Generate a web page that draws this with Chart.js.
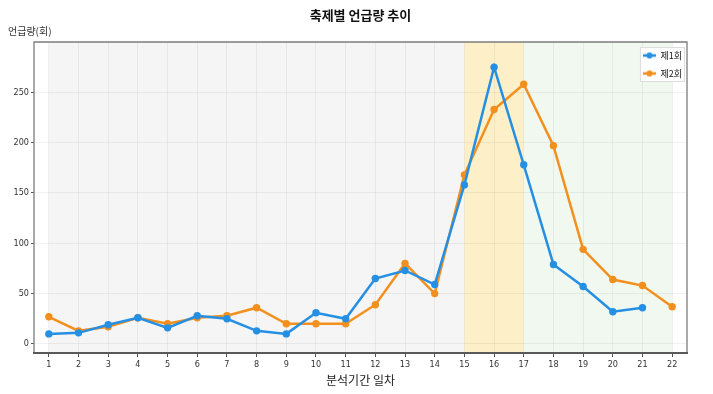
<!DOCTYPE html>
<html>
<head>
<meta charset="utf-8">
<script src="https://cdn.jsdelivr.net/npm/chart.js@4.4.1/dist/chart.umd.min.js"></script>
<style>
html, body { margin: 0; padding: 0; background: #fff; }
#wrap { position: relative; width: 713px; height: 394px; }
#title { position: absolute; left: 0; width: 721px; top: 7px; text-align: center;
         font: bold 13px 'Noto Sans CJK KR', sans-serif; line-height: 16px; color: #111; }
#ylabel { position: absolute; left: 8px; top: 24px;
          font: 10px 'Noto Sans CJK KR', sans-serif; line-height: 14px; color: #333; }
canvas { position: absolute; left: 0; top: 0; }
</style>
</head>
<body>
<div id="wrap">
  <canvas id="chart_mentions" width="713" height="394"></canvas>
  <div id="title">축제별 언급량 추이</div>
  <div id="ylabel">언급량(회)</div>
</div>
<script>
// day index on the x axis
const days = [1, 2, 3, 4, 5, 6, 7, 8, 9, 10, 11, 12, 13, 14, 15, 16, 17, 18, 19, 20, 21, 22];
// mentions per day, 1st festival (ends on day 21) and 2nd festival
const round1 = [10, 11, 19, 26, 16, 28, 25, 13, 10, 31, 25, 65, 73, 59, 158, 275, 178, 79, 57, 32, 36];
const round2 = [27, 13, 17, 26, 20, 26, 28, 36, 20, 20, 20, 39, 80, 50, 168, 233, 258, 197, 94, 64, 58, 37];
const seriesNames = ['제1회', '제2회'];
const yTicks = [0, 50, 100, 150, 200, 250];
// shaded periods: before / during / after the festival
const periodStart = [1, 15, 17];
const periodEnd = [15, 17, 22];

const BLUE = '#2590e3';
const ORANGE = '#f3901d';
const periodColors = ['#f5f5f5', '#fdf0c9', '#f1f8f0'];
const tickFont = "'Liberation Sans Narrow', 'DejaVu Sans Condensed', 'Noto Sans CJK KR', sans-serif";
const krFont = "'Noto Sans CJK KR', sans-serif";

const toPoints = (values) => values.map((v, i) => ({ x: days[i], y: v }));

// small line + dot sample for the legend
const legendMark = (color) => {
    const c = document.createElement('canvas');
    c.width = 13; c.height = 8;
    const g = c.getContext('2d');
    g.strokeStyle = color; g.lineWidth = 2.5;
    g.beginPath(); g.moveTo(0, 4); g.lineTo(13, 4); g.stroke();
    g.fillStyle = color;
    g.beginPath(); g.arc(6.5, 4, 3, 0, Math.PI * 2); g.fill();
    return c;
};
const marks = [legendMark(BLUE), legendMark(ORANGE)];

let legendFrame = null;

const periods = {
    id: 'periods',
    beforeDraw(chart) {
        const { ctx, chartArea: a, scales: { x } } = chart;
        ctx.save();
        periodStart.forEach((s, i) => {
            const x0 = x.getPixelForValue(s);
            const x1 = x.getPixelForValue(periodEnd[i]);
            ctx.fillStyle = periodColors[i];
            ctx.fillRect(x0, a.top, x1 - x0, a.bottom - a.top);
        });
        ctx.restore();
    },
    afterLayout(chart) {
        // move the legend into the upper right corner of the plot, frame drawn round its items
        const lg = chart.legend, a = chart.chartArea;
        const pad = lg.options.labels.padding;
        const boxes = lg.legendHitBoxes;
        const last = boxes[boxes.length - 1];
        const itemW = Math.max(...boxes.map((b) => b.width));
        const itemsH = last.top + last.height - boxes[0].top;
        const right = a.right - 2;
        const itemLeft = right - 3 - itemW;
        lg.left = itemLeft - pad;
        lg.right = a.right;
        lg.width = lg.right - lg.left;
        lg.top = a.top;
        lg.height = itemsH + pad * 4;
        lg.bottom = lg.top + lg.height;
        legendFrame = { x: itemLeft - 3, y: lg.top + pad - 4, w: right - itemLeft + 3, h: itemsH + 8 };
    },
    afterDatasetsDraw(chart) {
        const { ctx, chartArea: a } = chart;
        ctx.save();
        // frame
        ctx.strokeStyle = '#7c7c7c';
        ctx.lineWidth = 1.3;
        ctx.beginPath();
        ctx.moveTo(a.left, a.bottom); ctx.lineTo(a.left, a.top);
        ctx.lineTo(a.right, a.top); ctx.lineTo(a.right, a.bottom);
        ctx.stroke();
        ctx.strokeStyle = '#5a5a5a';
        ctx.lineWidth = 2;
        ctx.beginPath(); ctx.moveTo(a.left - 1, a.bottom); ctx.lineTo(a.right + 1, a.bottom); ctx.stroke();
        // legend box
        const f = legendFrame;
        ctx.fillStyle = 'rgba(255,255,255,0.85)';
        ctx.strokeStyle = '#dddddd';
        ctx.lineWidth = 1;
        ctx.fillRect(f.x, f.y, f.w, f.h);
        ctx.strokeRect(f.x + 0.5, f.y + 0.5, f.w - 1, f.h - 1);
        ctx.restore();
        chart.legend.draw();
    }
};

const datasetStyle = (color) => ({
    borderColor: color,
    backgroundColor: color,
    borderWidth: 2.5,
    pointRadius: 3.7,
    pointBorderWidth: 0,
    pointBackgroundColor: color,
    tension: 0,
});

const chart = new Chart(document.getElementById('chart_mentions'), {
    type: 'line',
    data: {
        datasets: [
            { label: seriesNames[0], data: toPoints(round1), ...datasetStyle(BLUE) },
            { label: seriesNames[1], data: toPoints(round2), ...datasetStyle(ORANGE) },
        ]
    },
    options: {
        responsive: false,
        animation: false,
        devicePixelRatio: 1,
        layout: { padding: { top: 42, right: 26, left: 0, bottom: 0 } },
        scales: {
            x: {
                type: 'linear',
                min: 0.5,
                max: 22.5,
                afterBuildTicks: (s) => { s.ticks = days.map((v) => ({ value: v })); },
                afterFit: (s) => { s.height = 41; },
                grid: { color: 'rgba(0,0,0,0.055)', tickColor: '#555', tickLength: 4 },
                border: { display: false },
                ticks: { font: { size: 9, family: tickFont }, color: '#333', padding: 2,
                         maxRotation: 0, autoSkip: false },
                title: { display: true, text: '분석기간 일차', color: '#222',
                         font: { size: 12, family: krFont }, padding: { top: 0, bottom: 6 } },
            },
            y: {
                min: -9,
                max: 300,
                afterBuildTicks: (s) => { s.ticks = yTicks.map((v) => ({ value: v })); },
                afterFit: (s) => { s.width = 34; },
                grid: { color: 'rgba(0,0,0,0.055)', tickColor: '#555', tickLength: 3 },
                border: { display: false },
                ticks: { font: { size: 9, family: tickFont }, color: '#333', padding: 2 },
            },
        },
        plugins: {
            tooltip: { enabled: false },
            legend: {
                position: 'chartArea',
                align: 'start',
                labels: {
                    usePointStyle: true,
                    pointStyleWidth: 13,
                    boxHeight: 9,
                    padding: 9,
                    color: '#222',
                    font: { size: 9, family: krFont },
                    generateLabels: (c) => c.data.datasets.map((ds, i) => ({
                        text: ds.label,
                        pointStyle: marks[i],
                        fillStyle: ds.borderColor,
                        strokeStyle: ds.borderColor,
                        lineWidth: 0,
                        fontColor: '#222',
                        hidden: false,
                        datasetIndex: i,
                    })),
                },
            },
        },
    },
    plugins: [periods],
});
</script>
</body>
</html>
